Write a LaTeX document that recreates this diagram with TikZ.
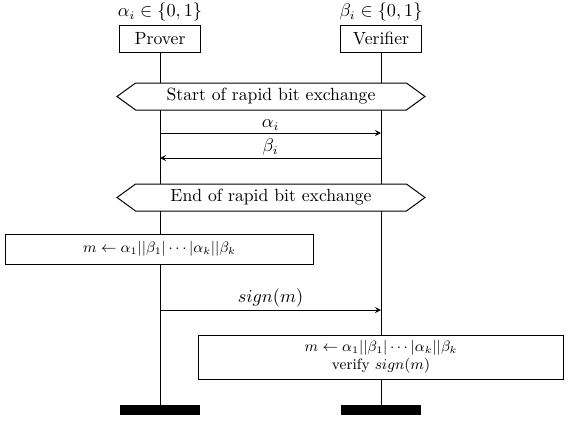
\documentclass[tikz,border=0pt]{standalone}
\usepackage{amsmath}
\usepackage{amssymb}
\usetikzlibrary{shapes.symbols}

\begin{document}
\begin{tikzpicture}[x=0.6pt,y=-0.6pt,semithick,font=\fontsize{10.6pt}{12.7pt}\selectfont]
		\tikzstyle {party} = [draw, minimum width=48.6pt, minimum height=16.2pt, inner sep=0pt]
		\tikzstyle {phase} = [draw, signal, signal to=west and east, signal pointer angle=72, minimum width=184.8pt, minimum height=16.2pt, inner sep=0pt]
		\tikzstyle {calc} = [draw, inner sep=0pt, font=\small, align=center]
		\tikzstyle {stop} = [fill=black, minimum width=48.6pt, minimum height=6pt, inner sep=0pt]
		\tikzstyle {msg} = [->, >=stealth]

		\useasboundingbox (0,0) rectangle (570,422);

		\node[party, label={[inner sep=1.5pt]above:$\alpha_i \in \{0,1\}$}] (prover) at (160,38.5) {Prover};
		\node[party, label={[inner sep=1.5pt]above:$\beta_i \in \{0,1\}$}] (verifier) at (381,38.5) {Verifier};
		\node[stop] (pend) at (160,410) {};
		\node[stop] (vend) at (381,410) {};

		% lifelines
		\draw (prover) -- (pend);
		\draw (verifier) -- (vend);

		\node[phase, fill=white] (start) at (271,96.5) {Start of rapid bit exchange};
		\node[phase, fill=white] (finish) at (271,197.5) {End of rapid bit exchange};

		\coordinate (pa) at (160,133);
		\coordinate (va) at (381,133);
		\coordinate (pb) at (160,158);
		\coordinate (vb) at (381,158);
		\draw[msg] (pa) -- (va) node[midway, above, inner sep=1.5pt] {$\alpha_i$};
		\draw[msg] (vb) -- (pb) node[midway, above, inner sep=1.5pt] {$\beta_i$};

		\node[calc, fill=white, minimum width=185.4pt, minimum height=18pt] (pmsg) at (159.5,249) {$m \leftarrow \alpha_1||\beta_1|\cdots|\alpha_k||\beta_k$};

		\coordinate (ps) at (160,310);
		\coordinate (vs) at (381,310);
		\draw[msg] (ps) -- (vs) node[midway, above, inner sep=1.5pt] {$sign(m)$};

		\node[calc, fill=white, minimum width=219.6pt, minimum height=26.4pt] (vcheck) at (381,357) {$m \leftarrow \alpha_1||\beta_1|\cdots|\alpha_k||\beta_k$\\ verify $sign(m)$};
	\end{tikzpicture}
\end{document}
